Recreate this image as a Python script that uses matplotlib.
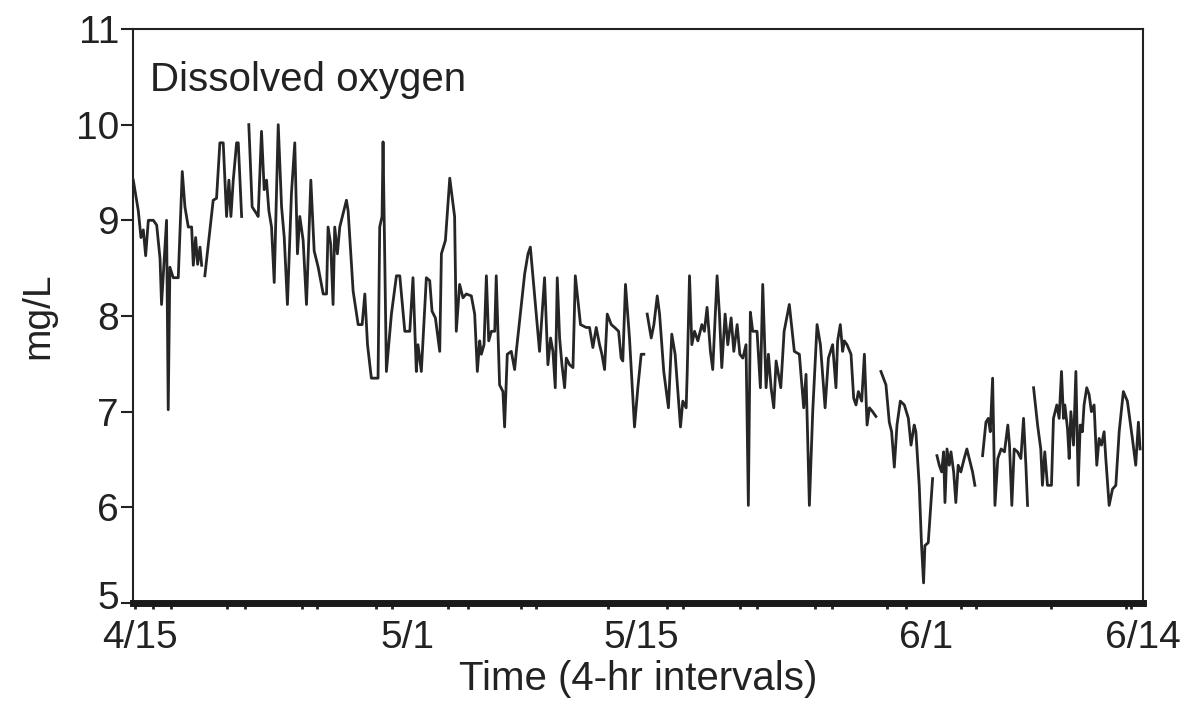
import numpy as np
import matplotlib
matplotlib.use('Agg')
import matplotlib.pyplot as plt
import matplotlib.transforms as mtransforms

plt.rcParams['font.family'] = ['Liberation Sans', 'DejaVu Sans']

# time in days after 4/15 (readings every 4 hr), nan = break in record
days = [
    -0.40, -0.10, 0.06, 0.20, 0.34, 0.50, 0.80, 1.00, 1.20, 1.29, 1.45, 1.59, 1.69, 1.79, 1.99, 2.29,
    2.53, 2.69, 2.89, 3.09, 3.19, 3.33, 3.45, 3.59, 3.69,
    3.78,
    3.88, 4.38, 4.58, 4.78, 4.98, 5.18, 5.32, 5.44, 5.58, 5.78, 5.88, 6.08,
    6.30,
    6.51, 6.71, 6.97, 7.07, 7.27, 7.43, 7.57, 7.71, 7.87, 8.03, 8.27, 8.47, 8.63, 8.82, 9.06, 9.26,
    9.42, 9.56, 9.76, 9.96, 10.22, 10.42, 10.66, 10.96, 11.16, 11.25, 11.41, 11.55, 11.65, 11.81,
    11.95, 12.35, 12.45, 12.75, 13.05, 13.29, 13.45, 13.61, 13.84, 14.24, 14.34, 14.48, 14.54, 14.74,
    15.04, 15.34, 15.54, 15.84, 16.14, 16.33, 16.53, 16.63, 16.83, 17.13, 17.33, 17.47, 17.67, 17.93,
    18.03, 18.27, 18.53, 18.82, 18.92, 19.12, 19.32, 19.52, 19.82, 20.02, 20.18, 20.32, 20.42, 20.58,
    20.72, 20.86, 21.02, 21.22, 21.31, 21.51, 21.71, 21.81, 21.97, 22.21, 22.41, 22.51, 23.01, 23.21,
    23.35, 23.51, 23.90, 24.20, 24.40, 24.56, 24.70, 24.84, 24.96, 25.10, 25.24, 25.40, 25.50, 25.70,
    25.90, 26.04, 26.35, 26.69, 26.89, 27.09, 27.29, 27.49, 27.63, 27.79, 27.95, 28.19, 28.39, 28.63,
    28.78, 28.88, 29.04, 29.28, 29.58, 29.78, 29.98, 30.14,
    30.24,
    30.34, 30.58, 30.74, 30.94, 31.08, 31.33, 31.61, 31.81, 32.01, 32.33, 32.47, 32.67, 32.73, 32.87,
    33.01, 33.17, 33.37, 33.61, 33.76, 33.92, 34.12, 34.26, 34.52, 34.66, 34.80, 35.00, 35.16, 35.36,
    35.52, 35.72, 35.88, 36.06, 36.25, 36.39, 36.51, 36.65, 36.91, 37.11, 37.25, 37.45, 37.59, 37.75,
    37.91, 38.05, 38.19, 38.33, 38.53, 38.84, 39.14, 39.44, 39.70, 39.84, 40.04, 40.24, 40.50, 40.70,
    40.98, 41.18, 41.43, 41.63, 41.73, 41.89, 42.03, 42.13, 42.29, 42.53, 42.69, 42.83, 42.97, 43.17,
    43.33, 43.49, 43.63, 43.82, 44.02,
    44.17,
    44.32, 44.62, 44.82, 44.96, 45.12, 45.28, 45.48, 45.72, 45.96, 46.12, 46.31, 46.41, 46.61, 46.75,
    46.87, 46.95, 47.15, 47.41,
    47.54,
    47.67, 47.81, 47.95, 48.07, 48.15, 48.27, 48.41, 48.51, 48.67, 48.80, 48.94, 49.10, 49.30, 49.46,
    49.60, 49.80, 49.94,
    50.17,
    50.40, 50.60, 50.74, 50.86, 51.00, 51.14, 51.31, 51.51, 51.71, 51.91, 52.01, 52.15, 52.29, 52.49,
    52.69, 52.85, 52.99, 53.09,
    53.27,
    53.45, 53.69, 53.88, 53.98, 54.12, 54.28, 54.52, 54.64, 54.84, 54.98, 55.12, 55.24, 55.32, 55.48,
    55.58, 55.68, 55.84, 55.98, 56.12, 56.24, 56.37, 56.47, 56.63, 56.77, 56.91, 57.07, 57.23, 57.37,
    57.51, 57.67, 57.77, 57.97, 58.17, 58.37, 58.57, 58.82, 59.06, 59.36, 59.56, 59.72, 59.82,
]

do_mgL = [
    9.42, 9.10, 8.82, 8.90, 8.63, 9.00, 9.00, 8.95, 8.60, 8.12, 8.58, 9.00, 7.02, 8.51, 8.40, 8.40,
    9.51, 9.14, 8.93, 8.93, 8.53, 8.82, 8.54, 8.72, 8.53,
    np.nan,
    8.42, 9.21, 9.23, 9.81, 9.81, 9.04, 9.42, 9.04, 9.42, 9.81, 9.81, 9.04,
    np.nan,
    10.00, 9.14, 9.07, 9.04, 9.93, 9.32, 9.42, 9.10, 8.93, 8.35, 10.00, 9.14, 8.82, 8.12, 9.28, 9.81,
    8.65, 9.04, 8.79, 8.12, 9.42, 8.68, 8.51, 8.23, 8.23, 8.93, 8.75, 8.12, 8.93, 8.65,
    8.93, 9.21, 9.10, 8.26, 7.91, 7.91, 8.23, 7.70, 7.35, 7.35, 8.93, 9.04, 9.82, 7.42,
    8.02, 8.42, 8.42, 7.84, 7.84, 8.40, 7.42, 7.70, 7.42, 8.40, 8.37, 8.05, 7.98, 7.63,
    8.65, 8.79, 9.44, 9.04, 7.84, 8.33, 8.19, 8.23, 8.21, 8.02, 7.42, 7.74, 7.60, 7.70,
    8.42, 7.74, 7.84, 7.84, 8.42, 7.28, 7.21, 6.84, 7.60, 7.63, 7.44, 7.63, 8.44, 8.65,
    8.72, 8.40, 7.63, 8.40, 7.49, 7.77, 7.63, 7.25, 8.40, 7.77, 7.49, 7.25, 7.56, 7.49,
    7.46, 8.42, 7.91, 7.88, 7.88, 7.67, 7.88, 7.70, 7.60, 7.44, 8.02, 7.91, 7.88, 7.84,
    7.56, 7.53, 8.33, 7.77, 6.84, 7.25, 7.60, 7.60,
    np.nan,
    8.02, 7.77, 7.91, 8.21, 8.02, 7.42, 7.04, 7.81, 7.60, 6.84, 7.11, 7.04, 7.39, 8.42,
    7.70, 7.84, 7.74, 7.91, 7.84, 8.09, 7.63, 7.44, 8.42, 8.02, 7.46, 8.02, 7.70, 7.98,
    7.63, 7.91, 7.60, 7.56, 7.70, 6.02, 8.04, 7.84, 7.84, 7.25, 8.33, 7.25, 7.60, 7.25,
    7.04, 7.53, 7.39, 7.25, 7.84, 8.12, 7.63, 7.60, 7.04, 7.39, 6.02, 7.00, 7.91, 7.70,
    7.04, 7.56, 7.70, 7.25, 7.74, 7.91, 7.63, 7.74, 7.70, 7.60, 7.14, 7.07, 7.21, 7.11,
    7.60, 6.86, 7.04, 7.00, 6.95,
    np.nan,
    7.42, 7.28, 6.89, 6.79, 6.42, 6.86, 7.11, 7.07, 6.93, 6.65, 6.86, 6.79, 6.23, 5.60,
    5.21, 5.60, 5.63, 6.30,
    np.nan,
    6.54, 6.44, 6.37, 6.58, 6.05, 6.61, 6.44, 6.58, 6.37, 6.05, 6.44, 6.37, 6.51, 6.61,
    6.51, 6.37, 6.23,
    np.nan,
    6.54, 6.89, 6.93, 6.79, 7.35, 6.02, 6.51, 6.61, 6.58, 6.86, 6.65, 6.02, 6.61, 6.58,
    6.51, 6.93, 6.44, 6.02,
    np.nan,
    7.25, 6.86, 6.61, 6.23, 6.58, 6.23, 6.23, 6.93, 7.07, 6.93, 7.42, 6.93, 7.07, 6.82,
    6.51, 7.00, 6.65, 7.42, 6.23, 6.86, 6.79, 7.07, 7.25, 7.18, 7.00, 7.07, 6.44, 6.72,
    6.65, 6.79, 6.51, 6.02, 6.19, 6.23, 6.79, 7.21, 7.11, 6.72, 6.44, 6.89, 6.61,
]

date_ticks = [0, 16, 30, 47, 60]
date_labels = ['4/15', '5/1', '5/15', '6/1', '6/14']
marker_days = [-0.3, 0.8, 1.85, 5.2, 6.3, 9.7, 10.6, 14.1, 15.1, 18.4, 19.6, 22.8, 23.7,
               28.0, 31.5, 32.5, 35.9, 36.9, 40.4, 41.4, 44.7, 45.8, 49.1, 50.0, 54.5, 59.0, 59.3]

fig = plt.figure(figsize=(11.87, 7.05), dpi=100)
ax = fig.add_axes([0.112, 0.1447, 0.851, 0.8142])
ax.plot(days, do_mgL, color='#262626', lw=2.0)

ax.set_xlim(-0.42, 60)
ax.set_ylim(5, 11)
ax.set_yticks(range(5, 12))
ax.set_xticks(date_ticks, date_labels)
ax.set_xticks(marker_days, minor=True)

ax.tick_params(axis='y', direction='out', length=9, width=1.5, labelsize=28, pad=1, colors='#222222')
ax.tick_params(axis='x', which='major', length=0, labelsize=28, pad=12, colors='#222222')
ax.tick_params(axis='x', which='minor', direction='out', length=4, width=2, color='#222222')
for s in ['left', 'top', 'right']:
    ax.spines[s].set_linewidth(1.5)
    ax.spines[s].set_color('#222222')
ax.spines['bottom'].set_linewidth(5)
ax.spines['bottom'].set_color('#1a1a1a')

# lift the lowest y label a little so it clears the first date label
lowest = ax.get_yticklabels()[0]
lowest.set_transform(lowest.get_transform() + mtransforms.ScaledTranslation(0, 6 / 72, fig.dpi_scale_trans))

ax.set_ylabel('mg/L', fontsize=28, labelpad=14, color='#222222')
ax.set_xlabel('Time (4-hr intervals)', fontsize=29, labelpad=3, color='#222222')
ax.text(0.017, 0.945, 'Dissolved oxygen', transform=ax.transAxes, fontsize=29,
        va='top', ha='left', color='#222222')

fig.savefig('out.png', dpi=100)
